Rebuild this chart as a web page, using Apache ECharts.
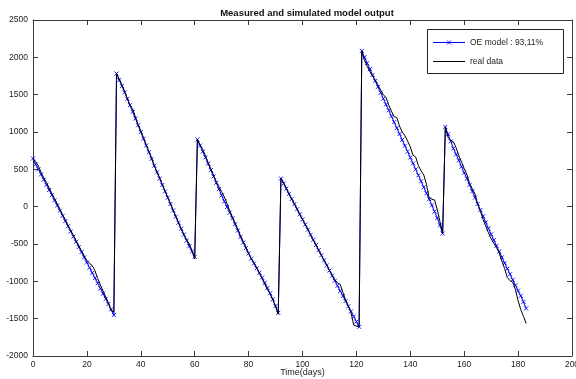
<!DOCTYPE html>
<html>
<head>
<meta charset="utf-8">
<script src="https://cdn.jsdelivr.net/npm/echarts@6/dist/echarts.min.js"></script>
<style>
  html, body { margin: 0; padding: 0; background: #ffffff; }
  #chart { width: 576px; height: 379px; }
</style>
</head>
<body>
<div id="chart"></div>
<script>
// Daily output of the OE model, one value per day (days 0..183)
const modelOutput = [
  645, 565, 500, 432, 362, 293, 223, 155, 85, 16, -54, -123, -193, -262, -332, -401, -470, -540, -609, -679, -748, -818, -887, -957, -1026, -1096, -1165, -1235, -1305, -1375, -1452,
  1783, 1695, 1615, 1530, 1445, 1360, 1270, 1180, 1090, 1000, 910, 820, 730, 640, 550, 460, 375, 290, 205, 120, 35, -50, -135, -215, -295, -375, -455, -530, -600, -672,
  900, 818, 737, 660, 575, 490, 405, 320, 235, 150, 70, -5, -80, -155, -235, -320, -405, -480, -555, -627, -695, -760, -825, -885, -950, -1020, -1090, -1160, -1240, -1330, -1422,
  377, 310, 240, 172, 103, 35, -34, -102, -170, -240, -308, -376, -445, -513, -582, -650, -718, -787, -855, -924, -992, -1060, -1130, -1197, -1265, -1335, -1403, -1471, -1540, -1609,
  2086, 2002, 1922, 1842, 1763, 1684, 1605, 1526, 1447, 1368, 1290, 1211, 1132, 1053, 974, 895, 816, 737, 658, 579, 500, 420, 340, 260, 180, 100, 18, -65, -150, -250, -359,
  1068, 970, 875, 780, 700, 620, 535, 455, 375, 292, 207, 122, 38, -45, -128, -210, -290, -370, -448, -525, -600, -678, -755, -830, -905, -980, -1052, -1125, -1195, -1275, -1363
];

// Measured data, same days
const realData = [
  645, 600, 545, 460, 385, 325, 250, 175, 110, 35, -35, -110, -175, -250, -320, -385, -455, -525, -590, -660, -720, -760, -790, -860, -960, -1050, -1130, -1210, -1290, -1395, -1410,
  1783, 1710, 1630, 1545, 1450, 1345, 1310, 1200, 1100, 1015, 925, 830, 740, 655, 545, 470, 385, 295, 210, 125, 45, -45, -130, -215, -300, -380, -440, -500, -590, -700,
  900, 830, 765, 680, 590, 505, 420, 335, 265, 200, 130, 40, -55, -140, -220, -300, -390, -465, -540, -625, -700, -750, -820, -890, -960, -1040, -1110, -1170, -1250, -1340, -1440,
  377, 320, 250, 165, 100, 40, -30, -105, -170, -235, -300, -380, -445, -510, -585, -650, -720, -780, -850, -915, -980, -1020, -1040, -1150, -1250, -1330, -1420, -1586, -1600, -1605,
  2086, 1960, 1880, 1810, 1750, 1695, 1630, 1560, 1500, 1460, 1360, 1280, 1205, 1195, 1080, 1000, 950, 880, 800, 690, 665, 550, 480, 425, 300, 115, 100, 90, -40, -200, -359,
  1068, 930, 885, 870, 790, 680, 600, 510, 430, 310, 240, 170, 30, -60, -170, -260, -350, -430, -490, -550, -620, -730, -830, -950, -990, -1010, -1110, -1260, -1380, -1470, -1565
];

const days = modelOutput.map((_, i) => i);

const seriesNames = ['OE model : 93,11%', 'real data'];
const seriesColors = ['#0000ff', '#000000'];
const chartTitle = 'Measured and simulated model output';
const xAxisName = 'Time(days)';
const xRange = { min: 0, max: 200, step: 20 };
const yRange = { min: -2000, max: 2500, step: 500 };

const FONT = 'Liberation Sans, Arial, Helvetica, sans-serif';
const AXIS_COLOR = '#3a3a3a';
const CROSS = 'path://M0,0L10,10M10,0L0,10';

function boxAxis(range, position, showLabels) {
  return {
    type: 'value',
    position: position,
    min: range.min,
    max: range.max,
    interval: range.step,
    axisLine: { show: true, onZero: false, lineStyle: { color: AXIS_COLOR, width: 1 } },
    axisTick: { show: true, inside: true, length: 5, lineStyle: { color: AXIS_COLOR, width: 1 } },
    axisLabel: { show: showLabels, color: '#222', fontSize: 8.5, fontFamily: FONT, formatter: v => String(v) },
    splitLine: { show: false }
  };
}

const xMain = boxAxis(xRange, 'bottom', true);
xMain.axisLabel.margin = 4;
xMain.name = xAxisName;
xMain.nameLocation = 'middle';
xMain.nameGap = 12;
xMain.nameMoveOverlap = false;
xMain.nameTextStyle = { color: '#222', fontSize: 9, fontFamily: FONT };

const yMain = boxAxis(yRange, 'left', true);
yMain.axisLabel.margin = 5;

// Legend box drawn as graphic elements: frame, sample lines, marker and labels
const LEG = { x: 427, y: 29, w: 136, h: 44, lineX0: 433, lineX1: 465, textX: 470, rows: [42, 61] };
const legendGraphics = [
  {
    type: 'rect',
    shape: { x: LEG.x + 0.5, y: LEG.y + 0.5, width: LEG.w, height: LEG.h },
    style: { fill: '#ffffff', stroke: '#222', lineWidth: 1 },
    z: 10
  }
];
seriesNames.forEach((name, i) => {
  const yRow = LEG.rows[i] + 0.5;
  legendGraphics.push({
    type: 'line',
    shape: { x1: LEG.lineX0, y1: yRow, x2: LEG.lineX1, y2: yRow },
    style: { stroke: seriesColors[i], lineWidth: 1 },
    z: 11
  });
  legendGraphics.push({
    type: 'text',
    x: LEG.textX,
    y: yRow,
    style: { text: name, fill: '#222', font: '8.5px ' + FONT, textVerticalAlign: 'middle', verticalAlign: 'middle' },
    z: 11
  });
});
{
  const cx = (LEG.lineX0 + LEG.lineX1) / 2, cy = LEG.rows[0] + 0.5, r = 2;
  legendGraphics.push({
    type: 'polyline',
    shape: { points: [[cx - r, cy - r], [cx + r, cy + r]] },
    style: { stroke: seriesColors[0], lineWidth: 0.9 },
    z: 12
  });
  legendGraphics.push({
    type: 'polyline',
    shape: { points: [[cx + r, cy - r], [cx - r, cy + r]] },
    style: { stroke: seriesColors[0], lineWidth: 0.9 },
    z: 12
  });
}

const chart = echarts.init(document.getElementById('chart'), null, { renderer: 'canvas' });

chart.setOption({
  animation: false,
  backgroundColor: '#ffffff',
  title: {
    text: chartTitle,
    left: 302,
    textAlign: 'center',
    top: 3,
    textStyle: { fontSize: 9.5, fontWeight: 'bold', color: '#111', fontFamily: FONT }
  },
  grid: { left: 33, right: 4, top: 20, bottom: 23, containLabel: false, outerBoundsMode: 'none' },
  xAxis: [xMain, boxAxis(xRange, 'top', false)],
  yAxis: [yMain, boxAxis(yRange, 'right', false)],
  graphic: legendGraphics,
  series: [
    {
      name: seriesNames[0],
      type: 'line',
      xAxisIndex: 0,
      yAxisIndex: 0,
      data: days.map((d, i) => [d, modelOutput[i]]),
      symbol: CROSS,
      symbolSize: 4,
      showSymbol: true,
      showAllSymbol: true,
      lineStyle: { color: seriesColors[0], width: 1 },
      itemStyle: { color: seriesColors[0], borderColor: seriesColors[0], borderWidth: 0.9 },
      emphasis: { disabled: true },
      z: 2
    },
    {
      name: seriesNames[1],
      type: 'line',
      xAxisIndex: 0,
      yAxisIndex: 0,
      data: days.map((d, i) => [d, realData[i]]),
      symbol: 'none',
      lineStyle: { color: seriesColors[1], width: 1 },
      itemStyle: { color: seriesColors[1] },
      emphasis: { disabled: true },
      z: 3
    }
  ]
});
</script>
</body>
</html>
